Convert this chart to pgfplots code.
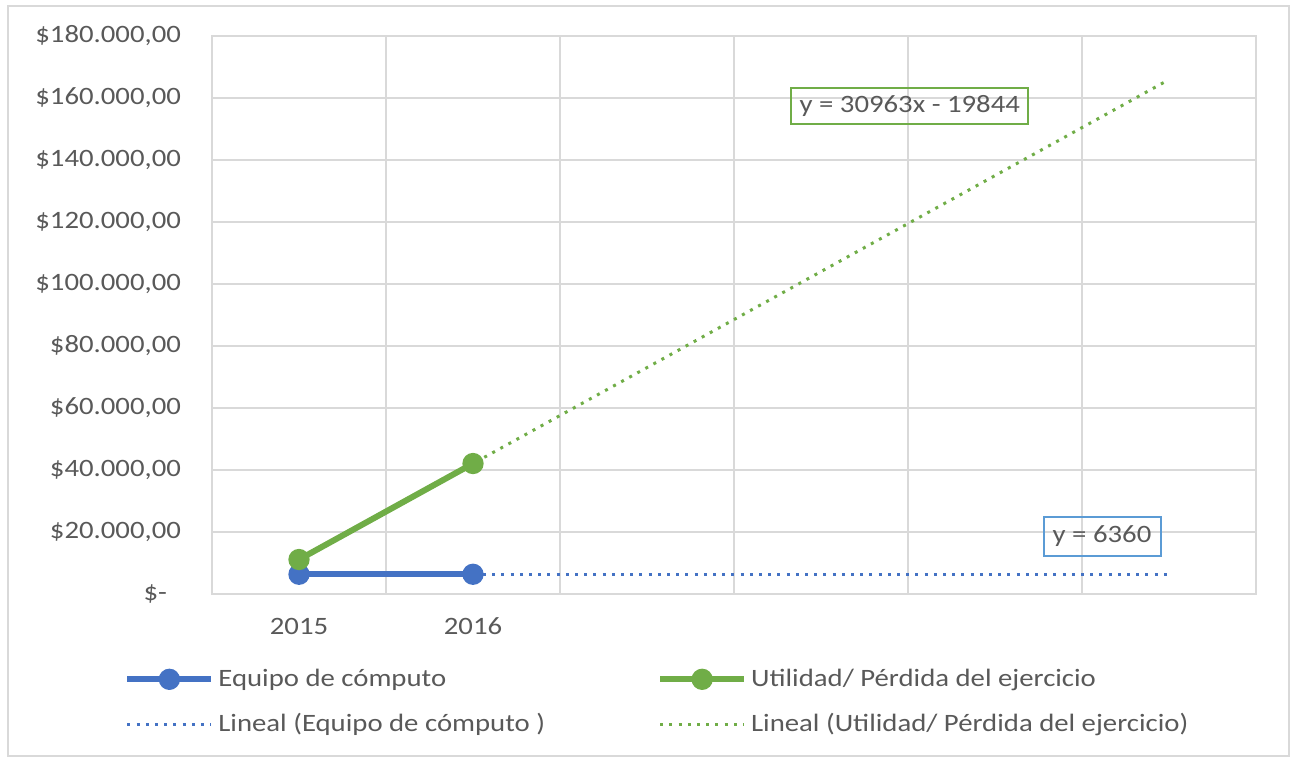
\documentclass[border=0pt]{standalone}
\usepackage{fontspec}
\setmainfont{Carlito}
\usepackage{graphicx}
\usepackage{pgfplots}
\pgfplotsset{compat=1.18}
\definecolor{txt}{HTML}{595959}
\definecolor{grd}{HTML}{D9D9D9}
\definecolor{cblue}{HTML}{4472C4}
\definecolor{cgreen}{HTML}{70AD47}
\definecolor{lblue}{HTML}{5B9BD5}
\newcommand{\W}[1]{\scalebox{1.15}[1]{#1}}
\begin{document}
\begin{tikzpicture}[font=\fontsize{12.5}{15}\selectfont]
\path (0,0) rectangle (647pt,379pt);
\draw[grd, line width=0.75pt] (4pt,1pt) rectangle (644.5pt,376pt);
\begin{axis}[
  at={(106pt,82pt)}, anchor=south west,
  scale only axis, width=522pt, height=279pt,
  xmin=0.5, xmax=6.5, ymin=0, ymax=180000,
  scaled y ticks=false,
  xtick={1,2}, xticklabels={\W{2015},\W{2016}},
  minor xtick={1.5,2.5,3.5,4.5,5.5},
  xminorgrids, ymajorgrids,
  ytick={0,20000,40000,60000,80000,100000,120000,140000,160000,180000},
  yticklabels={{\W{\$-}\rule{7pt}{0pt}},{\W{\$20.000,00}},{\W{\$40.000,00}},{\W{\$60.000,00}},{\W{\$80.000,00}},{\W{\$100.000,00}},{\W{\$120.000,00}},{\W{\$140.000,00}},{\W{\$160.000,00}},{\W{\$180.000,00}}},
  major tick length=0pt, minor tick length=0pt,
  tick style={draw=none},
  axis line style={grd, line width=0.75pt},
  grid style={grd, line width=0.75pt},
  minor grid style={grd, line width=0.75pt},
  xticklabel style={anchor=center, yshift=-16pt, text=txt},
  yticklabel style={anchor=east, xshift=-12pt, text=txt},
  clip=false,
  legend columns=2,
  legend cell align=left,
  legend style={draw=none, fill=none, at={(-0.0843,-0.1935)}, anchor=west, inner sep=0pt,
    row sep=8pt, text=txt, font=\fontsize{12.5}{15}\selectfont,
    /tikz/every even column/.append style={column sep=54pt}},
  legend image code/.code={\draw[mark repeat=2,mark phase=2,#1] plot coordinates {(0pt,0pt)(21pt,0pt)(42pt,0pt)};},
]
\addplot[cblue, line width=3pt, mark=*, mark size=3.8pt] coordinates {(1,6360)(2,6360)};
\addlegendentry{\W{Equipo de cómputo}}
\addplot[cgreen, line width=3pt, mark=*, mark size=3.8pt] coordinates {(1,11119)(2,42082)};
\addlegendentry{\W{Utilidad/ Pérdida del ejercicio}}
\addplot[cblue, line width=1.5pt, dash pattern=on 1.5pt off 3.1pt] coordinates {(1,6360)(6,6360)};
\addlegendentry{\W{Lineal (Equipo de cómputo )}}
\addplot[cgreen, line width=1.5pt, dash pattern=on 1.5pt off 3.1pt] coordinates {(1,11119)(6,165934)};
\addlegendentry{\W{Lineal (Utilidad/ Pérdida del ejercicio)}}
\node[draw=cgreen, line width=1pt, text=txt, minimum width=118.5pt, minimum height=18pt, inner sep=0pt] at (axis cs:4.51,157400) {\W{y = 30963x - 19844}};
\node[draw=lblue, line width=1pt, text=txt, minimum width=58.5pt, minimum height=19.5pt, inner sep=0pt] at (axis cs:5.615,18700) {\W{y = 6360}};
\end{axis}
\end{tikzpicture}
\end{document}
